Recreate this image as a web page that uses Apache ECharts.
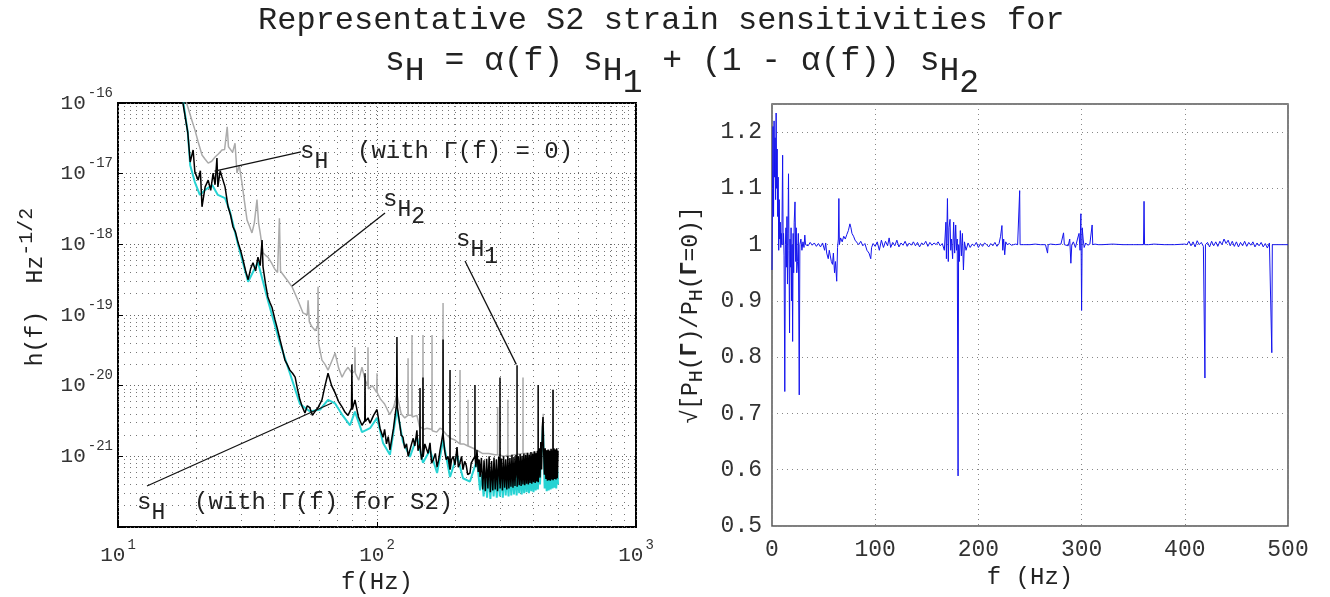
<!DOCTYPE html>
<html><head><meta charset="utf-8">
<script src="https://cdn.jsdelivr.net/npm/echarts@6/dist/echarts.min.js"></script>
<style>html,body{margin:0;padding:0;background:#fff}#c{width:1330px;height:597px}</style>
</head><body><div id="c"></div>
<script>
const MONO = "'Courier New','Liberation Mono',monospace";

// ---------- DATA ----------
// s_H2 (gray): [f (Hz), h (Hz^-1/2)]
const sH2 = [
[18.0,1.3e-16],[18.6,8.8e-17],[19.2,6.0e-17],[19.8,4.2e-17],[20.4,2.8e-17],[21.1,1.84e-17],[21.7,1.6e-17],[22.3,1.41e-17],
[23.0,1.5e-17],[23.7,1.72e-17],[24.4,1.9e-17],[25.2,2.16e-17],[25.8,2.2e-17],[26.4,4.6e-17],[26.7,2.4e-17],[27.07,2.4e-17],
[27.7,2.0e-17],[28.3,2.7e-17],[28.8,1.02e-17],[29.4,1.3e-17],[30.1,7.4e-18],[30.8,4.0e-18],[31.5,2.2e-18],[32.2,1.8e-18],
[32.9,1.45e-18],[33.6,2.0e-18],[34.4,4.3e-18],[34.9,2.0e-18],[35.4,1.45e-18],[36.3,7.6e-19],[37.1,7.0e-19],[37.9,6.6e-19],
[39.1,5.5e-19],[40.4,4.4e-19],[41.3,4.0e-19],[42.0,2.34e-18],[42.4,4.2e-19],[43.0,3.9e-19],[44.9,3.16e-19],[47.0,2.5e-19],
[49.5,1.62e-19],[51.8,1.07e-19],[53.8,1.0e-19],[54.2,1.62e-19],[54.8,8.0e-20],[56.1,6.8e-20],[57.8,6.0e-20],[59.0,7.0e-20],
[59.2,2.5e-19],[59.5,4.0e-20],[61.3,2.3e-20],[63.0,2.0e-20],[64.7,1.66e-20],[66.8,2.2e-20],[68.9,2.9e-20],[71.0,1.8e-20],
[73.3,1.32e-20],[75.3,1.6e-20],[77.3,1.82e-20],[80.0,1.5e-20],[82.0,1.6e-20],[82.2,3.5e-20],[82.5,1.5e-20],[85,1.2e-20],
[87.5,1.82e-20],[90,1.2e-20],[92.1,1.0e-20],[92.3,3.5e-20],[92.6,9.0e-21],[96,1.0e-20],[99.8,8.0e-21],[100,1.5e-20],
[100.2,8.0e-21],[103,6.5e-21],[107,5.5e-21],[112,3.9e-21],[116,5.0e-21],[119.4,7.5e-21],[124,4.0e-21],[128,3.5e-21],
[131.6,3.8e-21],[131.8,2.45e-20],[132,3.8e-21],[136.3,3.8e-21],[136.5,5.2e-20],[136.7,3.6e-21],[142.6,3.8e-21],[146,2.6e-21],
[150.3,2.5e-21],[150.5,5.2e-20],[150.7,2.4e-21],[156,2.5e-21],[162.9,2.4e-21],[163.1,5.2e-20],[163.3,2.3e-21],[170,2.2e-21],
[175,2.5e-21],[179.7,2.4e-21],[179.9,1.48e-19],[180.1,2.3e-21],[186,2.0e-21],[192,1.8e-21],[200,1.7e-21],[209,1.5e-21],
[209.2,1.66e-20],[209.4,1.5e-21],[216,1.5e-21],[224.4,1.4e-21],[224.6,6.3e-21],[224.8,1.4e-21],[235,1.3e-21],[245,1.2e-21],
[255,1.1e-21],[270,1.1e-21],[285,1.05e-21],[292,1.05e-21],[292.2,5.0e-21],[292.4,1.05e-21],[310,1.0e-21],[320,1.05e-21],
[320.2,6.3e-21],[320.4,1.0e-21],[340,1.05e-21],[366,1.1e-21],[366.2,1.3e-20],[366.4,1.1e-21],[390,1.1e-21],[410,1.15e-21],
[438,1.2e-21],[438.2,4.0e-21],[438.4,1.2e-21],[460,1.2e-21],[478,1.25e-21],[478.2,9.0e-21],[478.4,1.25e-21],[500,1.2e-21]
];

// s_H with Gamma(f) for S2 (cyan)
const sHgamma = [
[17.7,1.3e-16],[18.6,3.8e-17],[19.0,1.32e-17],[19.8,7.6e-18],[20.7,5.0e-18],[21.7,5.9e-18],[23.1,6.9e-18],[24.3,5.0e-18],
[25.9,4.5e-18],[27.07,2.9e-18],[29.1,9.8e-19],[31.8,2.95e-19],[34.7,5.6e-19],[37.9,1.62e-19],[42.2,4.0e-20],[46.1,1.5e-20],
[50.4,5.5e-21],[55.1,4.3e-21],[60.3,4.6e-21],[64.7,6.3e-21],[68.9,5.6e-21],[73.3,3.9e-21],[78.7,2.75e-21],[82.2,4.3e-21],
[87.5,2.2e-21],[94,2.5e-21],[100,3.5e-21],[105.5,1.55e-21],[112.2,1.05e-21],[119.4,4.6e-21],[126,1.6e-21],[134,9.8e-22],
[142.6,1.86e-21],[150.5,8.1e-22],[160.2,1.23e-21],[170.6,5.8e-22],[179.9,1.7e-21],[191.4,5.1e-22],[203.7,1.05e-21],[214.8,4.9e-22],
[228.5,4.4e-22],[243.2,8.9e-22],[250,3.3e-22],[254,5.5e-22],[258,2.7e-22],[262,5.8e-22],[266,2.6e-22],[270,5.6e-22],
[274,2.5e-22],[278,5.9e-22],[282,2.7e-22],[286,5.7e-22],[290,2.6e-22],[294,6.0e-22],[298,2.7e-22],[302,5.8e-22],
[306,2.6e-22],[310,6.1e-22],[314,2.8e-22],[318,5.9e-22],[322,2.7e-22],[326,6.2e-22],[330,2.8e-22],[334,6.0e-22],
[338,2.9e-22],[342,6.3e-22],[346,2.8e-22],[350,6.1e-22],[354,3.0e-22],[358,6.4e-22],[362,2.9e-22],[366,6.2e-22],
[370,3.0e-22],[374,6.5e-22],[378,3.1e-22],[382,6.4e-22],[386,3.0e-22],[390,6.6e-22],[394,3.2e-22],[398,6.5e-22],
[402,3.1e-22],[406,6.8e-22],[410,3.3e-22],[414,6.6e-22],[418,3.4e-22],[422,7.5e-22],[426,4.0e-22],[430,1.0e-21],
[434,1.6e-21],[437.5,2.75e-21],[441,8.0e-22],[444,3.5e-22],[448,6.5e-22],[452,3.2e-22],[456,6.8e-22],[460,3.3e-22],
[464,6.6e-22],[468,3.4e-22],[472,7.0e-22],[476,3.5e-22],[480,6.8e-22],[484,3.6e-22],[488,7.1e-22],[492,3.5e-22],
[496,6.9e-22],[500,4.0e-22]
];

// s_H with Gamma(f) = 0 / s_H1 (black)
const sH0 = [
[17.6,1.3e-16],[18.6,3.8e-17],[19.0,1.46e-17],[19.5,2.16e-17],[19.8,1.06e-17],[20.4,8.1e-18],[20.8,1.1e-17],[21.1,3.4e-18],
[21.7,6.5e-18],[22.3,8.1e-18],[22.8,5.8e-18],[23.3,1.02e-17],[23.7,7.0e-18],[24.1,1.66e-17],[24.3,6.5e-18],[24.8,1.1e-17],
[25.2,9.0e-18],[25.9,6.5e-18],[26.6,3.4e-18],[27.2,2.6e-18],[27.8,1.76e-18],[28.4,1.5e-18],[29.1,1.05e-18],[29.8,8.0e-19],
[30.4,6.0e-19],[31.1,4.2e-19],[31.8,3.16e-19],[32.5,4.5e-19],[33.2,5.5e-19],[34.0,4.2e-19],[34.7,6.6e-19],[35.4,5.0e-19],
[36.0,1.15e-18],[36.3,4.8e-19],[37.1,2.8e-19],[37.9,1.8e-19],[38.6,1.5e-19],[39.3,1.29e-19],[40.4,8.5e-20],[41.2,6.5e-20],
[42.2,4.5e-20],[43.1,3.3e-20],[44.1,2.3e-20],[45.0,2.0e-20],[46.1,1.66e-20],[47.2,1.5e-20],[48.3,1.32e-20],[49.3,9.0e-21],
[50.4,6.3e-21],[51.5,5.0e-21],[52.7,4.1e-21],[53.8,5.2e-21],[55.0,4.9e-21],[56.3,3.8e-21],[57.6,4.3e-21],[59.4,5.0e-21],
[61.3,6.3e-21],[63.0,1.0e-20],[64.7,1.5e-20],[66.8,1.0e-20],[68.9,7.9e-21],[71.0,6.0e-21],[73.3,5.0e-21],[75.3,4.2e-21],
[77.3,3.8e-21],[79.7,4.8e-21],[80.0,2.0e-20],[80.3,4.6e-21],[82.2,6.3e-21],[84.8,3.6e-21],[87.5,2.75e-21],[89.7,3.2e-21],
[89.9,1.5e-20],[90.1,3.1e-21],[92.3,3.5e-21],[94.0,2.95e-21],[97.0,3.8e-21],[100,4.6e-21],[102.7,2.5e-21],[105.5,1.86e-21],
[107,2.4e-21],[108.8,1.5e-21],[110.5,1.9e-21],[112.2,1.23e-21],[115.8,2.5e-21],[119.0,5.5e-21],[119.4,4.9e-20],[119.8,5.0e-21],
[122.5,2.8e-21],[124,2.0e-21],[126,1.86e-21],[128,1.3e-21],[130,1.5e-21],[132,1.0e-21],[134,1.23e-21],[136,1.5e-21],
[138,1.8e-21],[140,1.4e-21],[142.6,2.34e-21],[144,1.2e-21],[146.4,1.5e-21],[146.6,9.3e-21],[146.8,1.4e-21],[148.5,9.0e-22],
[150.3,1.1e-21],[150.5,1.3e-20],[150.7,9.8e-22],[153,1.5e-21],[155,1.3e-21],[157.5,1.1e-21],[160.2,1.55e-21],[162.5,8.0e-22],
[165,9.0e-22],[168,1.1e-21],[170.6,7.1e-22],[173,9.0e-22],[175,1.2e-21],[177.5,1.6e-21],[179.7,2.14e-21],[179.9,4.5e-20],
[180.1,2.0e-21],[182.5,1.2e-21],[185,9.0e-22],[188,1.0e-21],[191.2,6.5e-22],[191.4,1.66e-20],[191.6,6.5e-22],[194,9.0e-22],
[197,1.0e-21],[200,7.5e-22],[203.7,1.35e-21],[206,7.0e-22],[209,8.0e-22],[212,1.0e-21],[214.8,6.5e-22],[218,8.5e-22],
[221,7.5e-22],[224,5.5e-22],[228.5,5.8e-22],[231,8.0e-22],[235,8.5e-22],[238.7,1.0e-21],[238.9,1.02e-20],[239.1,1.0e-21],
[241,7.0e-22],[243.2,1.23e-21],[246,6.0e-22],[248,9.0e-22],
[250,5.1e-22],[253,9.5e-22],[256,3.4e-22],[259,8.8e-22],[262,3.2e-22],[265,9.2e-22],[268,3.5e-22],[271,1.0e-21],
[274,3.1e-22],[277,8.6e-22],[280,3.3e-22],[283,9.6e-22],[286,3.4e-22],[289,9.0e-22],[292,3.2e-22],[295,9.8e-22],
[298.3,4.0e-22],[298.5,1.3e-20],[298.8,3.5e-22],[302,9.3e-22],[305,3.3e-22],[308,1.0e-21],[311,3.6e-22],[314,9.1e-22],
[317,3.4e-22],[320,1.02e-21],[323,3.5e-22],[326,9.5e-22],[329,3.7e-22],[332,1.05e-21],[335,3.6e-22],[338,9.8e-22],
[341,3.8e-22],[344,1.04e-21],[347.1,5.0e-22],[347.3,1.95e-20],[347.6,3.7e-22],[351,1.0e-21],[354,3.9e-22],[357,1.08e-21],
[360,3.8e-22],[363,1.02e-21],[366,4.0e-22],[369,1.1e-21],[372,3.9e-22],[375,1.05e-21],[378,4.1e-22],[381,1.12e-21],
[384,4.0e-22],[387,1.06e-21],[390,4.2e-22],[393,1.15e-21],[396,4.1e-22],[399,1.1e-21],[402,4.3e-22],[405,1.18e-21],
[408,4.2e-22],[411,1.12e-21],[414,4.4e-22],[417,1.2e-21],[418.8,5.0e-22],[419,1.02e-20],[419.3,4.3e-22],[423,1.3e-21],
[426,5.0e-22],[429,1.6e-21],[432,6.5e-22],[435,2.6e-21],[437.5,3.6e-21],[440,1.2e-21],[443,5.5e-22],[446,1.3e-21],
[449,4.8e-22],[452,1.22e-21],[455,4.5e-22],[458,1.25e-21],[461,4.6e-22],[464,1.2e-21],[467,4.5e-22],[470,1.28e-21],
[473,4.7e-22],[476,1.22e-21],[477.9,5.0e-22],[478.2,8.7e-21],[478.5,4.6e-22],[482,1.3e-21],[485,4.8e-22],[488,1.25e-21],
[491,4.7e-22],[494,1.3e-21],[497,4.9e-22],[500,1.2e-21]
];

// sqrt[P_H(Gamma)/P_H(Gamma=0)] (blue): [f (Hz), ratio]
const ratio = [
[0,0.955],[0.5,1.10],[1,1.21],[1.5,1.05],[2,1.22],[2.5,1.12],[3,1.19],[3.5,1.08],[4,1.234],[4.5,1.10],[5,1.17],[5.5,1.05],
[6,1.12],[6.5,0.99],[7,1.08],[7.5,1.01],[8,1.04],[8.5,0.995],[9,1.02],[9.5,1.00],[10.3,1.159],[10.8,1.0],[11.2,1.02],[11.7,0.98],
[12.4,0.739],[13,1.0],[13.5,1.03],[14,0.96],[14.5,1.05],[15,0.93],[15.5,1.02],[16,1.126],[16.5,0.99],[17,0.843],[17.5,1.01],
[18,0.96],[18.5,1.03],[19,0.90],[19.5,1.0],[20,0.828],[20.5,1.02],[21,0.95],[21.5,1.04],[22.3,1.076],[23,0.97],[23.5,1.03],
[24,0.95],[24.75,0.97],[25.5,1.02],[26.4,0.733],[27,1.0],[28,1.01],[29,0.99],[30,1.005],[31,0.995],[31.8,1.017],[32.5,1.0],
[33,1.002],[35,0.998],[37,1.004],[39,0.999],[41,1.003],[43,0.997],[45,1.002],[47,0.996],[49,1.003],[50,1.0],[51,0.99],
[52,1.003],[53,0.985],[54.5,0.975],[55.5,0.99],[56.5,0.98],[57.5,0.97],[58.6,0.965],[59.5,0.985],[60.6,0.95],[61.5,0.97],
[62.7,0.935],[63.5,0.995],[64.3,1.01],[64.8,1.082],[65.3,1.0],[66.5,1.012],[68,1.005],[69.5,1.015],[71,1.01],[72.5,1.018],
[74,1.025],[75.5,1.037],[76.5,1.03],[77.5,1.02],[79,1.015],[80.5,1.008],[82,1.005],[84,1.0],[86,1.006],[88,0.998],[90,1.002],
[92,0.99],[94,0.985],[95.7,0.975],[96.5,0.995],[98,1.002],[100,0.997],[102,1.005],[104,0.99],[106,1.008],[108,0.995],
[110,1.006],[112,0.998],[113.5,1.012],[115,0.995],[117,1.004],[119,0.998],[121,1.008],[123,0.996],[125,1.003],[127,0.999],
[129,1.006],[131,0.997],[133,1.003],[135,0.999],[137,1.005],[139,0.998],[141,1.004],[143,0.996],[145,1.003],[147,1.0],
[149,1.006],[151,0.997],[153,1.004],[155,0.999],[157,1.003],[159,1.0],[161,1.005],[163,0.998],[165,1.002],[167,0.99],
[168.5,1.04],[169,0.975],[170,1.082],[170.8,0.97],[171.5,1.03],[172.5,1.045],[173.2,0.99],[174,1.01],[175,0.975],[176,1.04],
[177,0.985],[178,1.035],[178.8,0.99],[179.5,1.01],[180.3,0.589],[180.8,1.0],[181.5,0.97],[182.5,1.025],[183.5,0.98],
[184.5,1.02],[185.5,0.955],[186.5,1.005],[188,0.99],[190,1.003],[192,0.995],[194,1.001],[196,0.998],[198,1.004],[200,0.995],
[202,1.002],[204,0.997],[206,1.003],[208,1.0],[210,0.996],[212,1.002],[214,0.998],[216,1.004],[218,0.997],[220,1.002],
[221.5,1.015],[222.8,1.034],[223.6,0.99],[224.5,1.01],[225.5,0.982],[226.5,1.005],[228,1.0],[230,1.002],[232,0.999],
[234,1.0],[236,1.001],[238,1.0],[239.6,1.0],[240,1.096],[240.4,1.0],[242,1.001],[244,1.0],[250,1.0],[255,1.001],[260,1.0],
[265,1.0],[267,0.985],[267.6,1.0],[270,1.001],[275,1.0],[280,1.001],[282.5,1.021],[283.3,1.0],[285,1.003],[287,0.998],
[288.5,1.01],[289.6,0.967],[290.5,1.0],[292,1.005],[294,0.995],[296,1.01],[297.5,1.02],[298.5,0.99],[299.3,1.055],[300,0.883],
[300.6,1.03],[301.5,1.01],[302.5,0.995],[304,1.003],[306,0.999],[308,1.001],[309.5,1.0],[310.2,1.035],[310.8,1.0],[313,1.001],
[316,1.0],[320,1.0],[330,1.001],[340,1.0],[350,1.0],[360,1.0],[360.5,1.077],[361,1.0],[365,1.0],[370,1.001],[380,1.0],
[390,1.0],[400,1.001],[402,1.0],[404,1.006],[406,0.998],[408,1.005],[410,0.996],[412,1.007],[414,1.0],[416,1.004],[418,0.997],
[419.5,0.763],[420,1.0],[422,1.004],[424,0.996],[426,1.006],[428,0.998],[430,1.005],[432,0.997],[434,1.006],[436,1.0],
[438,1.01],[440,1.002],[442,1.008],[444,0.998],[446,1.006],[448,0.997],[450,1.005],[452,0.996],[454,1.004],[456,0.998],
[458,1.006],[460,0.997],[462,1.004],[464,0.999],[466,1.005],[468,0.996],[470,1.003],[472,0.998],[474,1.004],[476,0.996],
[478,1.002],[480,0.994],[482,1.003],[483.8,1.003],[484.3,0.808],[484.8,1.0],[486,1.001],[490,1.0],[495,1.0],[500,1.0]
];

// annotation leader lines, in data coordinates [f, h]
const leaders = [
  [[50.9,2.03e-17],[23.6,1.09e-17]],
  [[107.4,2.77e-18],[47.0,2.58e-19]],
  [[218.7,5.8e-19],[345,2.0e-20]],
  [[12.94,3.8e-22],[67.0,5.69e-21]]
];

// log-axis range (decade exponents) and minor multipliers
const H_UNIT_EXP = -22;            // values are plotted in units of 1e-22 Hz^-1/2 (log axis precision)
const yDecades = [-22,-21,-20,-19,-18,-17];
const xDecades = [1,2];
const minorMult = [2,3,4,5,6,7,8,9];

// ---------- OPTION ----------
const H_UNIT = Math.pow(10, H_UNIT_EXP);
const toUnit = arr => arr.map(p => [p[0], p[1] / H_UNIT]);

const minorLines = [];
yDecades.forEach(e => minorMult.forEach(m => minorLines.push({yAxis: m * Math.pow(10, e - H_UNIT_EXP)})));
xDecades.forEach(e => minorMult.forEach(m => minorLines.push({xAxis: m * Math.pow(10, e)})));

const C = '#222';
const powRich = {
  b: {fontFamily: MONO, fontSize: 21, lineHeight: 22, color: '#333'},
  s: {fontFamily: MONO, fontSize: 14, lineHeight: 14, color: '#333', padding: [0, 0, 20, 2]}
};
function annRich(){
  return {
    b:  {fontFamily: MONO, fontSize: 24, lineHeight: 24, color: C},
    s1: {fontFamily: MONO, fontSize: 23, lineHeight: 24, color: C, padding: [20, 0, 0, 0]},
    s2: {fontFamily: MONO, fontSize: 23, lineHeight: 24, color: C, padding: [34, 0, 0, 0]}
  };
}
function ann(text, left, top){
  return {text, left, top, padding: 0, textStyle: {fontFamily: MONO, fontSize: 24, fontWeight: 'normal', color: C, rich: annRich()}};
}

const option = {
  animation: false,
  backgroundColor: '#fff',
  textStyle: {fontFamily: MONO},
  title: [
    {text: 'Representative S2 strain sensitivities for', left: 258, top: 5, padding: 0,
     textStyle: {fontFamily: MONO, fontSize: 32, fontWeight: 'normal', color: C}},
    {text: '{b|s}{s1|H}{b| = α(f) s}{s1|H}{s2|1}{b| + (1 - α(f)) s}{s1|H}{s2|2}', left: 385, top: 45, padding: 0,
     textStyle: {fontFamily: MONO, fontSize: 33, fontWeight: 'normal', color: C, rich: {
       b:  {fontFamily: MONO, fontSize: 33, lineHeight: 32, color: C},
       s1: {fontFamily: MONO, fontSize: 33, lineHeight: 32, color: C, padding: [20, 0, 0, 0]},
       s2: {fontFamily: MONO, fontSize: 33, lineHeight: 32, color: C, padding: [44, 0, 0, 0]}
     }}},
    ann('{b|s}{s1|H}{b|  (with Γ(f) = 0)}', 300, 140),
    ann('{b|s}{s1|H}{s2|2}', 383, 188),
    ann('{b|s}{s1|H}{s2|1}', 456, 228),
    ann('{b|s}{s1|H}{b|  (with Γ(f) for S2)}', 137, 491)
  ],
  grid: [
    {left: 118, top: 103, width: 518, height: 424, show: true, borderColor: '#000', borderWidth: 2,
     backgroundColor: 'transparent', outerBoundsMode: 'none', containLabel: false},
    {left: 772, top: 104, width: 516, height: 422, show: true, borderColor: '#555', borderWidth: 1.5,
     backgroundColor: 'transparent', outerBoundsMode: 'none', containLabel: false}
  ],
  xAxis: [
    {gridIndex: 0, type: 'log', logBase: 10, min: 10, max: 1000,
     axisLine: {show: false},
     axisTick: {show: true, inside: true, length: 5, lineStyle: {color: '#000'}},
     axisLabel: {margin: 17, formatter: v => '{b|10}{s|' + Math.round(Math.log10(v)) + '}', rich: powRich},
     splitLine: {show: true, lineStyle: {type: [1, 3], color: '#666', width: 1}},
     name: 'f(Hz)', nameLocation: 'middle', nameGap: 44, nameMoveOverlap: false,
     nameTextStyle: {fontFamily: MONO, fontSize: 24, color: C}},
    {gridIndex: 1, type: 'value', min: 0, max: 500, interval: 100,
     axisLine: {show: false}, axisTick: {show: false},
     axisLabel: {margin: 12, fontFamily: MONO, fontSize: 23, color: '#333'},
     splitLine: {show: true, lineStyle: {type: [1, 4], color: '#888', width: 1}},
     name: 'f (Hz)', nameLocation: 'middle', nameGap: 40,
     nameTextStyle: {fontFamily: MONO, fontSize: 24, color: C}}
  ],
  yAxis: [
    {gridIndex: 0, type: 'log', logBase: 10, min: 1, max: 1e6, splitNumber: 6,
     axisLine: {show: false},
     axisTick: {show: true, inside: true, length: 5, lineStyle: {color: '#000'}},
     axisLabel: {margin: 5, formatter: v => { const e = Math.round(Math.log10(v)) + H_UNIT_EXP; return e === -22 ? '' : '{b|10}{s|' + e + '}'; }, rich: powRich},
     splitLine: {show: true, lineStyle: {type: [1, 3], color: '#666', width: 1}},
     name: '{n|h(f)  Hz}{s|-1/2}', nameLocation: 'middle', nameGap: 70, nameRotate: 90,
     nameTextStyle: {fontFamily: MONO, fontSize: 23, color: C, padding: [0, 0, 0, 56], rich: {
       n: {fontFamily: MONO, fontSize: 23, lineHeight: 24, color: C},
       s: {fontFamily: MONO, fontSize: 20, lineHeight: 20, color: C, padding: [0, 0, 18, 0]}
     }}},
    {gridIndex: 1, type: 'value', min: 0.5, max: 1.25, interval: 0.1,
     axisLine: {show: false}, axisTick: {show: false},
     axisLabel: {margin: 10, fontFamily: MONO, fontSize: 23, color: '#333',
       formatter: v => (Math.abs(v * 10 - Math.round(v * 10)) > 1e-6 ? '' : String(Math.round(v * 10) / 10))},
     splitLine: {show: true, lineStyle: {type: [1, 4], color: '#888', width: 1}},
     name: '{n|√[P}{h|H}{n|(}{g|Γ}{n|)/P}{h|H}{n|(}{g|Γ}{n|=0)]}', nameLocation: 'middle', nameGap: 70, nameRotate: 90,
     nameTextStyle: {fontFamily: MONO, fontSize: 23, color: C, rich: {
       n: {fontFamily: MONO, fontSize: 23, lineHeight: 23, color: C},
       h: {fontFamily: MONO, fontSize: 20, lineHeight: 20, color: C, padding: [12, 0, 0, 0]},
       g: {fontFamily: MONO, fontSize: 23, lineHeight: 23, color: C, fontWeight: 'bold'}
     }}}
  ],
  series: [
    {name: 'sH2', type: 'line', xAxisIndex: 0, yAxisIndex: 0, data: toUnit(sH2), showSymbol: false, symbol: 'none',
     lineStyle: {color: '#ababab', width: 1.5}, silent: true,
     markLine: {silent: true, symbol: 'none', z: 1, animation: false, label: {show: false}, emphasis: {disabled: true},
       lineStyle: {type: [1, 5], color: '#777', width: 1}, data: minorLines}},
    {name: 'sHgamma', type: 'line', xAxisIndex: 0, yAxisIndex: 0, data: toUnit(sHgamma), showSymbol: false, symbol: 'none',
     lineStyle: {color: '#27d3d3', width: 2}, silent: true},
    {name: 'sH0', type: 'line', xAxisIndex: 0, yAxisIndex: 0, data: toUnit(sH0), showSymbol: false, symbol: 'none',
     lineStyle: {color: '#000', width: 1.5}, silent: true,
     markLine: {silent: true, symbol: 'none', z: 5, animation: false, label: {show: false}, emphasis: {disabled: true},
       lineStyle: {type: 'solid', color: '#111', width: 1.3},
       data: leaders.map(p => [{coord: [p[0][0], p[0][1] / H_UNIT]}, {coord: [p[1][0], p[1][1] / H_UNIT]}])}},
    {name: 'ratio', type: 'line', xAxisIndex: 1, yAxisIndex: 1, data: ratio, showSymbol: false, symbol: 'none',
     lineStyle: {color: '#1414ee', width: 1}, silent: true}
  ]
};

const chart = echarts.init(document.getElementById('c'));
chart.setOption(option);
</script>
</body></html>
